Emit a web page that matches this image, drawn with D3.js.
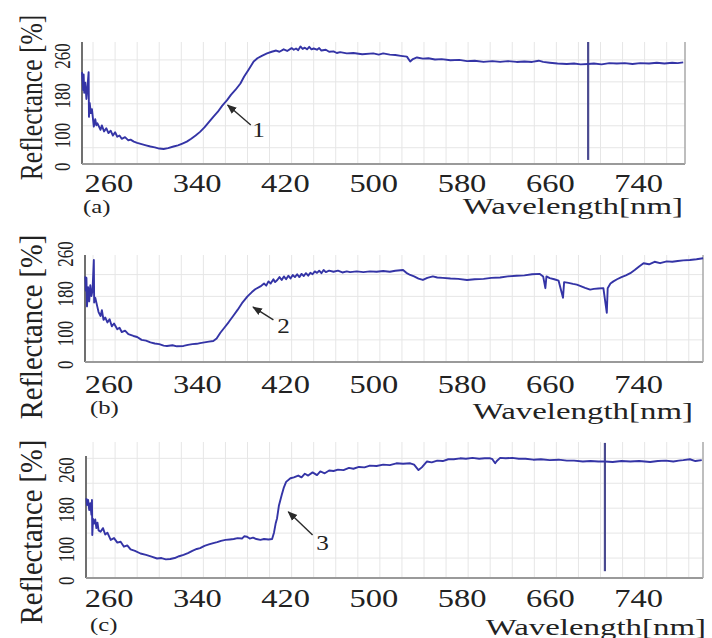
<!DOCTYPE html>
<html><head><meta charset="utf-8">
<script src="https://cdn.jsdelivr.net/npm/d3@7"></script>
<style>html,body{margin:0;padding:0;background:#fff;}svg{display:block;}</style>
</head><body>
<svg id="chart" width="712" height="638"></svg>
<script>
// ---------- data ----------
const wavelengthTicks = [260, 340, 420, 500, 580, 660, 740];
const reflectanceLabels = ["0", "100", "180", "260"];
const panelLetters = ["(a)", "(b)", "(c)"];
const annotationLabels = ["1", "2", "3"];
const xAxisTitle = "Wavelength[nm]";
const yAxisTitle = "Reflectance [%]";

const spectrumA = [[236,226],[237,182],[237.5,220],[238,175],[239,200],[240,160],[241,190],[242,226],[242.3,116],[243,150],[244,125],[245,135],[246.7,92],[248,110],[249,95],[250,100],[252.8,84],[254,95],[256,80],[258,88],[260,76],[262,82],[264,70],[266,78],[268,67],[270,70],[272,62],[275,66],[278,58],[280,60],[283,55],[286,52],[290,49],[294,46],[298,43],[302,41],[306,38],[310,37],[314,39],[319,43],[323,46],[327,50],[331,55],[335,62],[339,70],[343,79],[347,90],[351,103],[355,116],[359,128],[363,143],[367.5,157],[371,170],[375,182],[379.6,198],[383,215],[387,232],[391.6,252],[395,260],[399,266],[403.7,272],[408,276],[412,279],[415,276],[418.8,282],[422,278],[426,285],[428,281],[430,284],[432,280],[434,289],[436,283],[438,286],[440,282],[442,288],[444,282],[446,284],[449,281],[451,285],[453,279],[457,281],[460,276],[464,277],[467,273],[470,275],[476,272],[482,273],[490,270],[500,272],[505,269],[509,272],[515,269],[520,268],[525,266],[530.5,264],[533.5,252],[536,258],[539.6,262],[545,259],[550,260],[556,257],[562,258],[570,255],[578,256],[585,253],[592,254],[600,251],[608,253],[615,251],[622,253],[630,251],[637,252],[644,251],[650,254],[654,251],[660,249],[667,247],[675.5,246],[682,247],[688,245],[694.8,246],[700,247],[707,245],[714,248],[720.8,247],[728,248],[735,246],[742,248],[750,247],[757,249],[764,247],[771,249],[776,248],[781,250]];

const spectrumB = [[239,240],[239.5,200],[240,236],[240.5,156],[241.5,210],[242.5,170],[243.5,215],[244.5,185],[245.5,200],[246.7,286],[247,167],[248,180],[249.8,156],[251,140],[252.8,129],[254,145],[255.5,118],[257,125],[259,111],[261,120],[263,100],[265,108],[268,92],[270,96],[272,84],[275,88],[278,78],[282.6,73],[286,70],[290,62],[294,60],[298,55],[302,52],[306,50],[310,46],[313,45],[318,47],[322,44],[328,45],[332,48],[336,50],[340,51],[343,53],[347,55],[351,57],[355,59],[358,66],[361.4,82],[365,96],[369,112],[373,129],[377,146],[381,165],[386,184],[390,196],[393,204],[397.7,212],[401,220],[403,214],[405,226],[407,220],[409.5,232],[411,224],[413,230],[415,238],[417,230],[419,240],[421,232],[423,242],[425,234],[427,244],[429,238],[431,246],[433,238],[435,247],[437,241],[439,249],[441,242],[443,250],[445,246],[447,254],[449,250],[451,256],[453,249],[455,258],[457,252],[460,256],[464,253],[468,256],[472,251],[476,254],[479,252],[485,254],[491,252],[497,254],[503,253],[509,255],[515,253],[520,256],[527,258],[530,250],[533.5,244],[537,240],[541,234],[545,230],[549,236],[554,240],[558,237],[563,236],[570,234],[577,233],[585,230],[592,232],[600,233],[607,236],[615,237],[622,240],[630,242],[637,243],[644,246],[651,247],[654,240],[656,207],[657,240],[660,235],[664,232],[668,228],[672,180],[673,224],[677,222],[681,219],[684.5,217],[688,213],[692,208],[696.6,203],[700,205],[704,206],[708.6,207],[711.7,138],[712.5,207],[715,220],[717.7,226],[721,232],[725,238],[729,243],[733,249],[737,258],[741,268],[745,277],[750,274],[755,281],[760,277],[766,282],[771,281],[776,283],[781,285],[787,286],[793,288],[799,291]];

const spectrumC = [[240,176],[240.5,161],[241.5,172],[242.5,150],[243.5,165],[244.5,140],[245,172],[245.3,95],[246,130],[247,120],[248,129],[249,110],[250,122],[251,105],[252.8,102],[255,110],[257,96],[259,100],[262,84],[265,88],[268,78],[271,80],[274,69],[277,72],[280,63],[284,60],[289,54],[294,51],[299,47],[304,43],[308,44],[312,41],[316,42],[320,44],[324,48],[328,51],[332,55],[336,60],[340,64],[343,66],[347,71],[351,74],[355,77],[358.5,79],[362,82],[366,84],[370,85],[373.5,86],[377,88],[381,87],[383,92],[385.6,91],[388,87],[391,89],[394,86],[397.7,84],[401,86],[405,85],[408.3,86],[410,100],[411.5,120],[412.8,132],[414.5,160],[417,183],[419,200],[421,212],[424.9,220],[428,222],[432,226],[435,222],[438,230],[441,226],[445,233],[449,227],[452,235],[456,231],[460,237],[464,236],[468,239],[473,238],[478,243],[482,241],[487,245],[492,244],[497,248],[503,247],[509,250],[515,249],[521,253],[527,252],[533.5,253],[537,250],[541,238],[544,244],[548.7,257],[553,255],[558,259],[563,258],[568,262],[573,262],[578.8,264],[584,263],[590,265],[596,263],[601,264],[606,264],[608,262],[610.5,253],[612,258],[615,265],[620,264],[626,265],[632,263],[638,263],[645,261],[652,262],[660,260],[668,261],[675.5,259],[682,259],[690,257],[697,258],[704,257],[710,257],[717,256],[725,258],[733,257],[741,258],[751,256],[758,258],[765,259],[772,257],[777,259],[781,260],[787,262],[792,258],[797.8,260]];

// vertical marker lines: [wavelength, fromValue, toValue]
const markerA = [[694.8, 10, 300]];
const markerB = [];
const markerC = [[710, 15, 298]];

// annotation arrows in data units: tip, tail, label
const arrowA = {tip:[368,145], tail:[389,96], text:[396,66]};
const arrowB = {tip:[391,154], tail:[409.5,118], text:[418.6,81]};
const arrowC = {tip:[423,146], tail:[445,95], text:[454,62]};

// ---------- layout ----------
const panels = [
  {spec:spectrumA, markers:markerA, arrow:arrowA, left:82, right:685, top:42, axisTop:42, bottom:164, xd:[236,782.6],
   tickY:192, letter:[83,213], xlab:[683,214], ylab:{cy:97.5, size:25.6, sy:1.2}, grid:{start:40, step:54}},
  {spec:spectrumB, markers:markerB, arrow:arrowB, left:85, right:703, top:255, axisTop:255, bottom:362, xd:[238.7,798.9],
   tickY:393, letter:[90,414], xlab:[693,419], ylab:{cy:327, size:28.5, sy:1.08}, grid:{start:62, step:61}},
  {spec:spectrumC, markers:markerC, arrow:arrowC, left:86, right:703, top:442, axisTop:456, bottom:578, xd:[239.6,798.9],
   tickY:607, letter:[90,631], xlab:[706,635], ylab:{cy:532, size:28.5, sy:1.08}, grid:{start:44, step:55}}
];

const FONT = "'Liberation Serif','DejaVu Serif',serif";
const TXT = "#222";
const CURVE = "#3434a6";
const svg = d3.select("#chart");

const defs = svg.append("defs");
defs.append("marker").attr("id","ah").attr("viewBox","0 0 10 10").attr("refX",9).attr("refY",5)
  .attr("markerWidth",7).attr("markerHeight",7).attr("orient","auto")
  .append("path").attr("d","M0,1 L10,5 L0,9 Z").attr("fill","#2a2a2a");

panels.forEach((p, i) => {
  const x = d3.scaleLinear().domain(p.xd).range([p.left, p.right]);
  const y = d3.scaleLinear().domain([0, 300]).range([p.bottom, p.top]);
  const g = svg.append("g");

  // grid
  const vGrid = d3.range(246, p.xd[1], 20).filter(v => v > p.xd[0]);
  g.selectAll(".vg").data(vGrid).join("line")
    .attr("x1", d => x(d)).attr("x2", d => x(d)).attr("y1", p.top).attr("y2", p.bottom)
    .attr("stroke", "#e6e6e6").attr("stroke-width", 1);
  const hGrid = d3.range(p.grid.start, 300, p.grid.step);
  g.selectAll(".hg").data(hGrid).join("line")
    .attr("x1", p.left).attr("x2", p.right).attr("y1", d => y(d)).attr("y2", d => y(d))
    .attr("stroke", "#e6e6e6").attr("stroke-width", 1);

  // frame: left axis, bottom axis, right border
  g.append("line").attr("x1", p.left).attr("x2", p.left).attr("y1", p.axisTop).attr("y2", p.bottom)
    .attr("stroke", "#707070").attr("stroke-width", 2);
  g.append("line").attr("x1", p.left).attr("x2", p.right).attr("y1", p.bottom).attr("y2", p.bottom)
    .attr("stroke", "#9a9a9a").attr("stroke-width", 2);
  g.append("line").attr("x1", p.right).attr("x2", p.right).attr("y1", p.top).attr("y2", p.bottom)
    .attr("stroke", "#a8a8a8").attr("stroke-width", 1.5);

  // vertical marker lines
  g.selectAll(".mk").data(p.markers).join("line")
    .attr("x1", d => x(d[0])).attr("x2", d => x(d[0])).attr("y1", d => y(d[1])).attr("y2", d => y(d[2]))
    .attr("stroke", "#4a4a90").attr("stroke-width", 2.2);

  // spectrum
  const line = d3.line().x(d => x(d[0])).y(d => y(d[1]));
  g.append("path").datum(p.spec).attr("d", line).attr("fill", "none")
    .attr("stroke", CURVE).attr("stroke-width", 1.9).attr("stroke-linejoin", "round");

  // x axis tick labels
  const ax = g.append("g").attr("transform", `translate(0,${p.tickY})`)
    .call(d3.axisBottom(x).tickValues(wavelengthTicks).tickSize(0).tickFormat(d3.format("d")));
  ax.select(".domain").remove();
  ax.selectAll("text").attr("y", 0).attr("dy", 0).attr("transform", "scale(1.3,1)")
    .attr("font-family", FONT).attr("font-size", 25).attr("fill", TXT);

  // panel letter
  g.append("text").attr("transform", `translate(${p.letter[0]},${p.letter[1]}) scale(1.3,1)`)
    .attr("font-family", FONT).attr("font-size", 19).attr("fill", TXT).text(panelLetters[i]);

  // x title
  g.append("text").attr("transform", `translate(${p.xlab[0]},${p.xlab[1]}) scale(1.4,1)`)
    .attr("text-anchor", "end").attr("font-family", FONT).attr("font-size", 23.5).attr("fill", TXT)
    .text(xAxisTitle);

  // y tick labels (single rotated string)
  g.append("text").attr("transform", `translate(${p.left - 12},${p.bottom + 7}) rotate(-90) scale(1,1.3)`)
    .attr("text-anchor", "start").attr("font-family", FONT).attr("font-size", 17)
    .attr("word-spacing", 10).attr("fill", TXT).text(reflectanceLabels.join(" "));

  // y title
  g.append("text").attr("transform", `translate(42,${p.ylab.cy}) rotate(-90) scale(1,${p.ylab.sy})`)
    .attr("text-anchor", "middle").attr("font-family", FONT).attr("font-size", p.ylab.size)
    .attr("fill", TXT).text(yAxisTitle);

  // annotation arrow
  const a = p.arrow;
  g.append("line").attr("x1", x(a.tail[0])).attr("y1", y(a.tail[1]))
    .attr("x2", x(a.tip[0])).attr("y2", y(a.tip[1]))
    .attr("stroke", "#2a2a2a").attr("stroke-width", 1.4).attr("marker-end", "url(#ah)");
  g.append("text").attr("transform", `translate(${x(a.text[0])},${y(a.text[1])}) scale(1.2,1)`)
    .attr("text-anchor", "middle").attr("font-family", FONT).attr("font-size", 21)
    .attr("fill", TXT).text(annotationLabels[i]);
});
</script>
</body></html>
